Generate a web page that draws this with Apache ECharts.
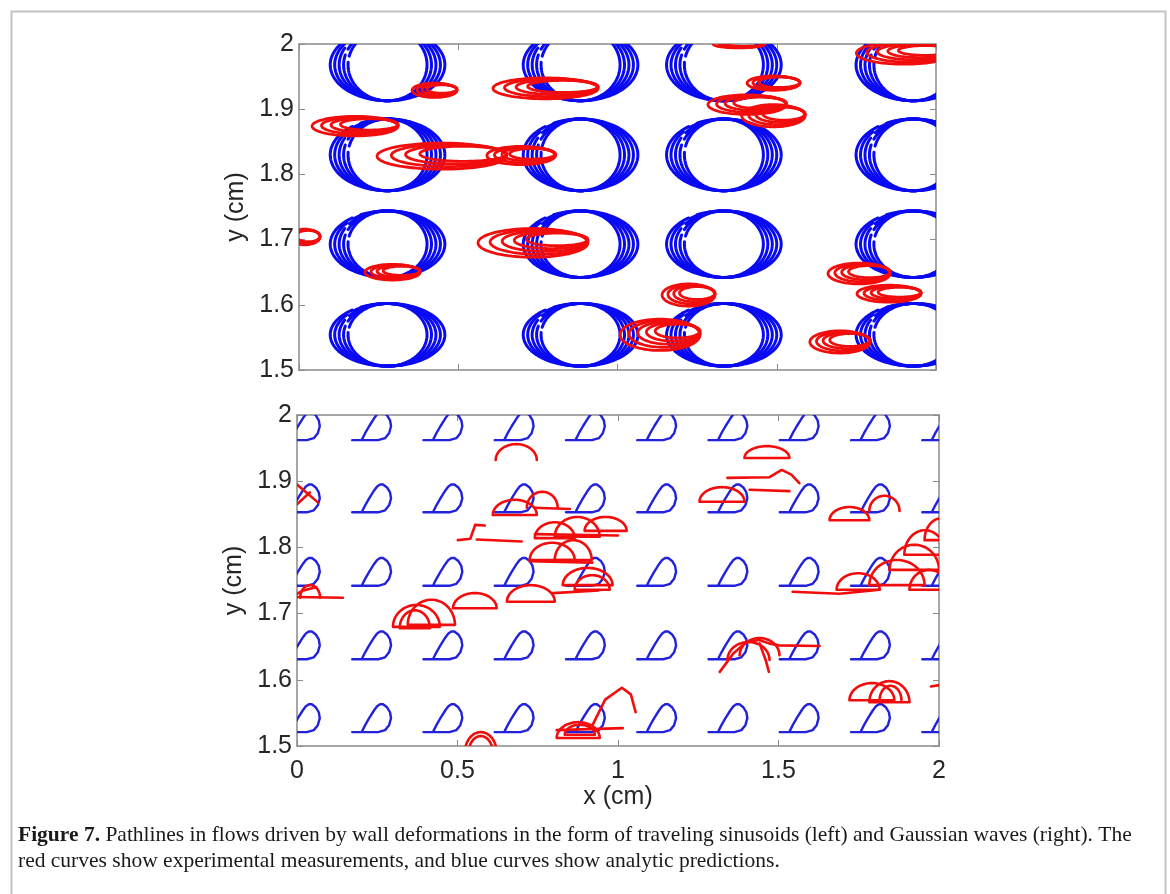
<!DOCTYPE html>
<html>
<head>
<meta charset="utf-8">
<script src="https://cdn.jsdelivr.net/npm/echarts@6/dist/echarts.min.js"></script>
<style>
  html, body { margin: 0; padding: 0; background: #fff; }
  #chart { width: 1170px; height: 894px; }
</style>
</head>
<body>
<div id="chart"></div>
<script>
// ---- top panel: traveling sinusoids ----
// blue loop groups: centre x of each column, centre y / half height of each row
var blueCols = [0.278, 0.884, 1.334, 1.929];
var blueRows = [1.968, 1.830, 1.693, 1.554];
var blueRowRy = [0.055, 0.055, 0.051, 0.048];
// half widths of the 5 nested loops, and where each loop starts (deg)
var blueRx = [0.180, 0.166, 0.152, 0.138, 0.124];
var blueStart = [128, 140, 152, 164, 176];

// red measured loops: [xLeft, yCentre, xRight, halfHeight, loops]
var redLoopsTop = [
  [0.355, 1.929, 0.496, 0.011, 4],
  [0.609, 1.932, 0.939, 0.016, 4],
  [0.041, 1.874, 0.311, 0.015, 4],
  [0.245, 1.828, 0.652, 0.020, 4],
  [0.590, 1.829, 0.805, 0.014, 4],
  [-0.03, 1.704, 0.066, 0.012, 3],
  [0.207, 1.650, 0.380, 0.012, 4],
  [0.562, 1.695, 0.907, 0.022, 5],
  [1.300, 2.000, 1.463, 0.006, 3],
  [1.407, 1.940, 1.573, 0.011, 3],
  [1.284, 1.907, 1.530, 0.015, 4],
  [1.390, 1.890, 1.589, 0.017, 4],
  [1.750, 1.986, 2.050, 0.017, 5],
  [1.661, 1.648, 1.856, 0.016, 4],
  [1.752, 1.617, 1.953, 0.013, 4],
  [1.140, 1.615, 1.306, 0.017, 4],
  [1.008, 1.554, 1.259, 0.024, 5],
  [1.604, 1.543, 1.793, 0.017, 4]
];

// ---- bottom panel: Gaussian waves ----
// blue loops: left end of the base line for each column / row
var dCols = [-0.05, 0.172, 0.394, 0.616, 0.838, 1.060, 1.282, 1.504, 1.726, 1.948];
var dRows = [1.962, 1.853, 1.742, 1.631, 1.521];

// red humps: [x0, yBase, x1, yTop, closed]
var redHumps = [
  [0.610, 1.849, 0.747, 1.872, 1],
  [0.716, 1.860, 0.812, 1.884, 0],
  [0.741, 1.814, 0.865, 1.838, 1],
  [0.803, 1.816, 0.943, 1.846, 1],
  [0.896, 1.825, 1.027, 1.846, 1],
  [0.725, 1.781, 0.865, 1.807, 1],
  [0.803, 1.781, 0.918, 1.811, 1],
  [0.828, 1.743, 0.983, 1.769, 1],
  [0.865, 1.736, 0.974, 1.758, 1],
  [0.654, 1.718, 0.803, 1.743, 1],
  [0.299, 1.680, 0.445, 1.713, 1],
  [0.345, 1.683, 0.492, 1.721, 1],
  [0.486, 1.708, 0.622, 1.731, 1],
  [0.320, 1.678, 0.414, 1.705, 1],
  [0.809, 1.512, 0.943, 1.536, 1],
  [0.834, 1.517, 0.928, 1.532, 1],
  [0.010, 1.724, 0.072, 1.743, 0],
  [1.394, 1.935, 1.534, 1.953, 1],
  [1.254, 1.869, 1.394, 1.891, 1],
  [1.659, 1.841, 1.783, 1.861, 1],
  [1.783, 1.855, 1.877, 1.878, 0],
  [1.681, 1.736, 1.815, 1.761, 1],
  [1.783, 1.743, 1.955, 1.781, 1],
  [1.846, 1.766, 2.000, 1.804, 1],
  [1.892, 1.789, 2.020, 1.826, 1],
  [1.908, 1.736, 2.030, 1.766, 1],
  [1.955, 1.811, 2.060, 1.844, 1],
  [1.341, 1.630, 1.472, 1.657, 0],
  [1.379, 1.637, 1.503, 1.663, 0],
  [1.721, 1.569, 1.861, 1.595, 1],
  [1.783, 1.566, 1.908, 1.598, 1],
  [1.815, 1.569, 1.883, 1.591, 0],
  [0.619, 1.932, 0.747, 1.956, 0],
  [0.523, 1.490, 0.622, 1.521, 0],
  [0.535, 1.490, 0.610, 1.515, 0]
];

// red free paths (x, y pairs)
var redPaths = [
  [[0, 1.895], [0.065, 1.868]],
  [[0, 1.865], [0.04, 1.883]],
  [[0, 1.725], [0.143, 1.724]],
  [[0, 1.730], [0.02, 1.735], [0.06, 1.740]],
  [[0.74, 1.860], [0.85, 1.858]],
  [[0.501, 1.811], [0.54, 1.813], [0.555, 1.834], [0.585, 1.833]],
  [[0.56, 1.812], [0.70, 1.809]],
  [[0.741, 1.820], [1.0, 1.818]],
  [[0.725, 1.779], [0.92, 1.777]],
  [[0.797, 1.731], [0.94, 1.735]],
  [[0.921, 1.532], [0.96, 1.570], [1.012, 1.588], [1.04, 1.578], [1.055, 1.551]],
  [[0.809, 1.524], [1.015, 1.527]],
  [[1.341, 1.905], [1.472, 1.906], [1.51, 1.917], [1.54, 1.910], [1.565, 1.897]],
  [[1.41, 1.887], [1.534, 1.885]],
  [[1.544, 1.733], [1.69, 1.730], [1.815, 1.736]],
  [[1.317, 1.612], [1.36, 1.640], [1.40, 1.657], [1.44, 1.660], [1.47, 1.655], [1.50, 1.652], [1.628, 1.651]],
  [[1.441, 1.655], [1.46, 1.630], [1.47, 1.612]],
  [[1.975, 1.590], [2.0, 1.592]]
];

var BLUE = '#0a0af2';
var BLUE2 = '#2222dd';
var RED = '#f20d0d';
var AXIS = '#8a8a8a';
var TEXT = '#262626';

function arc(cx, cy, rx, ry, a0, a1, n) {
  var out = [];
  for (var i = 0; i <= n; i++) {
    var t = (a0 + (a1 - a0) * i / n) * Math.PI / 180;
    out.push([cx + rx * Math.cos(t), cy + ry * Math.sin(t)]);
  }
  return out;
}
function line(api, pts, color, w) {
  return {
    type: 'polyline',
    shape: { points: pts.map(function (p) { return api.coord(p); }) },
    style: { stroke: color, lineWidth: w, fill: 'none', lineJoin: 'round', lineCap: 'round' }
  };
}

// outline of one blue loop in the bottom panel, in a unit box
var dGlyph = [[0, 0], [0.667, 0], [0.846, 0.071], [0.949, 0.25], [1, 0.5], [0.974, 0.714],
  [0.897, 0.893], [0.795, 1], [0.718, 1], [0.641, 0.929], [0.564, 0.786], [0.436, 0.5],
  [0.333, 0.25], [0.256, 0.036]];
var dW = 0.121, dH = 0.042;

var blueTopData = [];
blueRows.forEach(function (y, r) {
  blueCols.forEach(function (x) { blueTopData.push([x, y, blueRowRy[r]]); });
});
var dData = [];
dRows.forEach(function (y) { dCols.forEach(function (x) { dData.push([x, y]); }); });

function xAx(grid, pos, labels, name) {
  return {
    type: 'value', gridIndex: grid, position: pos, min: 0, max: 2, interval: 0.5,
    axisLine: { show: true, onZero: false, lineStyle: { color: AXIS, width: 1.5 } },
    axisTick: { show: true, inside: true, length: 6, lineStyle: { color: AXIS } },
    axisLabel: { show: labels, color: TEXT, fontSize: 25, fontFamily: 'Liberation Sans', margin: 13 },
    splitLine: { show: false },
    name: name || '', nameLocation: 'middle', nameGap: 36,
    nameTextStyle: { color: TEXT, fontSize: 25, fontFamily: 'Liberation Sans' }
  };
}
function yAx(grid, pos, labels, name) {
  return {
    type: 'value', gridIndex: grid, position: pos, min: 1.5, max: 2, interval: 0.1,
    axisLine: { show: true, onZero: false, lineStyle: { color: AXIS, width: 1.5 } },
    axisTick: { show: true, inside: true, length: 6, lineStyle: { color: AXIS } },
    axisLabel: { show: labels, color: TEXT, fontSize: 25, fontFamily: 'Liberation Sans', margin: 5,
      formatter: function (v) { return String(+v.toFixed(1)); } },
    splitLine: { show: false },
    name: name || '', nameLocation: 'middle', nameGap: 40, nameRotate: 90,
    nameTextStyle: { color: TEXT, fontSize: 25, fontFamily: 'Liberation Sans' }
  };
}

var chart = echarts.init(document.getElementById('chart'), null, { renderer: 'canvas' });
chart.setOption({
  animation: false,
  backgroundColor: '#fff',
  grid: [
    { left: 299, top: 44, width: 637, height: 326 },
    { left: 297, top: 415, width: 642, height: 331 }
  ],
  xAxis: [xAx(0, 'bottom', false), xAx(0, 'top', false), xAx(1, 'bottom', true, 'x (cm)'), xAx(1, 'top', false)],
  yAxis: [yAx(0, 'left', true, 'y (cm)'), yAx(0, 'right', false), yAx(1, 'left', true, 'y (cm)'), yAx(1, 'right', false)],
  graphic: [
    { type: 'rect', left: 9, top: 9, shape: { width: 1154, height: 900 },
      style: { fill: 'none', stroke: '#c4c4c4', lineWidth: 2 }, silent: true },
    { type: 'text', left: 18, top: 824, style: {
        text: '{b|Figure 7.} Pathlines in flows driven by wall deformations in the form of traveling sinusoids (left) and Gaussian waves (right). The',
        fill: '#1a1a1a', font: '21.5px "Liberation Serif"',
        rich: { b: { fontWeight: 'bold', fontSize: 21.5, fontFamily: 'Liberation Serif', fill: '#1a1a1a' } } } },
    { type: 'text', left: 18, top: 850, style: {
        text: 'red curves show experimental measurements, and blue curves show analytic predictions.',
        fill: '#1a1a1a', font: '21.5px "Liberation Serif"' } }
  ],
  series: [
    {
      type: 'custom', xAxisIndex: 0, yAxisIndex: 0, clip: true, data: blueTopData,
      renderItem: function (params, api) {
        var cx = api.value(0), cy = api.value(1), ry = api.value(2);
        return { type: 'group', children: blueRx.map(function (rx, k) {
          return line(api, arc(cx, cy, rx, ry, blueStart[k], blueStart[k] + 350, 110), BLUE, 3);
        }) };
      }
    },
    {
      type: 'custom', xAxisIndex: 0, yAxisIndex: 0, clip: true, data: redLoopsTop,
      renderItem: function (params, api) {
        var xl = api.value(0), yc = api.value(1), xr = api.value(2), ry = api.value(3), n = api.value(4);
        var kids = [];
        for (var i = 0; i < n; i++) {
          var rx = (xr - xl) / 2 * (1 - 0.11 * i);
          kids.push(line(api, arc(xr - rx, yc + ry * 0.06 * i, rx, ry * (1 - 0.14 * i), 0, 360, 80), RED, 2.8));
        }
        return { type: 'group', children: kids };
      }
    },
    {
      type: 'custom', xAxisIndex: 2, yAxisIndex: 2, clip: true, data: dData,
      renderItem: function (params, api) {
        var bx = api.value(0), by = api.value(1);
        var pts = dGlyph.map(function (p) { return [bx + p[0] * dW, by + p[1] * dH]; });
        return line(api, pts, BLUE2, 2.4);
      }
    },
    {
      type: 'custom', xAxisIndex: 2, yAxisIndex: 2, clip: true, data: redHumps,
      renderItem: function (params, api) {
        var x0 = api.value(0), yb = api.value(1), x1 = api.value(2), yt = api.value(3);
        var pts = arc((x0 + x1) / 2, yb, (x1 - x0) / 2, yt - yb, 180, 0, 40);
        if (api.value(4)) pts.push([x0, yb]);
        return line(api, pts, RED, 2.6);
      }
    },
    {
      type: 'custom', xAxisIndex: 2, yAxisIndex: 2, clip: true,
      data: redPaths.map(function (p, i) { return [p[0][0], p[0][1], i]; }),
      renderItem: function (params, api) {
        return line(api, redPaths[api.value(2)], RED, 2.6);
      }
    }
  ]
});
</script>
</body>
</html>
